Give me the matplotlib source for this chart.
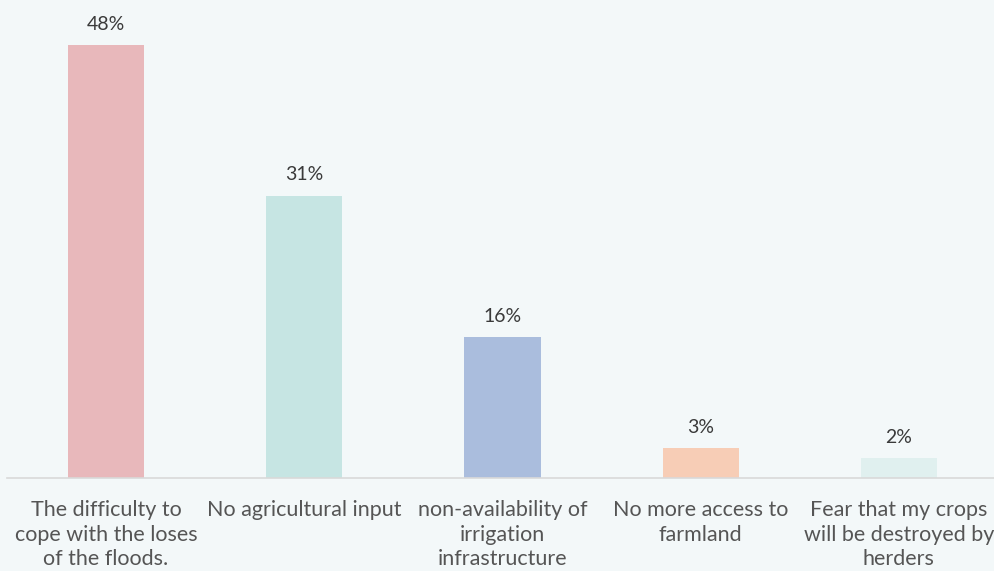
import matplotlib.pyplot as plt
import matplotlib as mpl

mpl.rcParams['font.family'] = ['Lato', 'DejaVu Sans']

categories = ['The difficulty to\ncope with the loses\nof the floods.',
              'No agricultural input',
              'non-availability of\nirrigation\ninfrastructure',
              'No more access to\nfarmland',
              'Fear that my crops\nwill be destroyed by\nherders']
values = [48.0, 31.3, 15.6, 3.3, 2.2]
colors = ['#e8b8bb', '#c6e5e3', '#aabddd', '#f7cdb6', '#e0f0ef']

bg = '#f3f8f9'
fig = plt.figure(figsize=(9.95, 5.71), dpi=100, facecolor=bg)
ax = fig.add_axes([7 / 995, 1 - 478 / 571, 991 / 995, 478 / 571])
ax.set_facecolor(bg)

x = range(len(values))
bars = ax.bar(x, values, width=0.385, color=colors)
for xi, v in zip(x, values):
    ax.annotate(f'{v:.0f}%', (xi, v), xytext=(0, 9), textcoords='offset points',
                ha='center', va='bottom', fontsize=14, color='#3a3a3a')

ax.set_xlim(-0.5, 4.5)
ax.set_ylim(0, 53)
ax.set_xticks(list(x))
ax.set_xticklabels(categories, fontsize=15.5, color='#555555', linespacing=1.27)
ax.tick_params(axis='x', length=0, pad=16)
ax.set_yticks([])
for s in ['top', 'left', 'right']:
    ax.spines[s].set_visible(False)
ax.spines['bottom'].set_color('#d9d9d9')
ax.spines['bottom'].set_linewidth(1.2)

fig.savefig('out.png', dpi=100, facecolor=bg)
